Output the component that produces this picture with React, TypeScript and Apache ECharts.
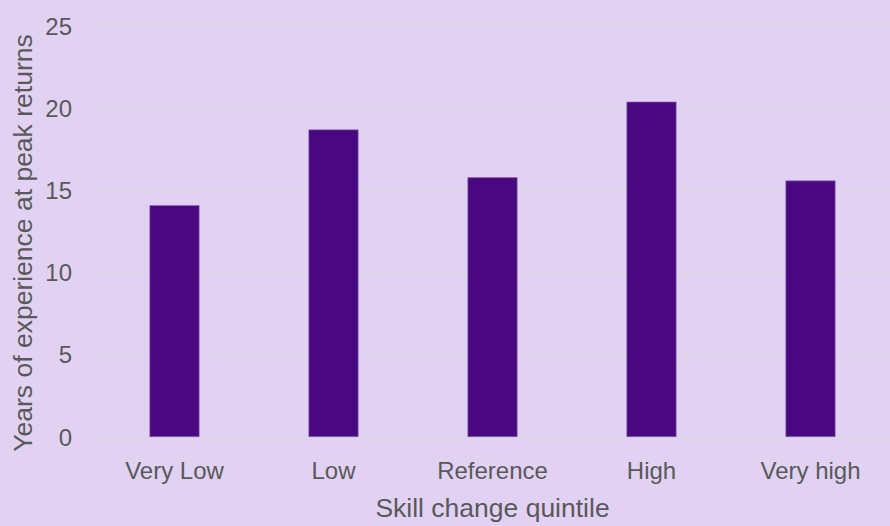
import React, { useEffect, useRef } from "react";
import * as echarts from "echarts";

const categories = ["Very Low", "Low", "Reference", "High", "Very high"];
const peakYears = [14.1, 18.7, 15.8, 20.4, 15.6];
const yTicks = [0, 5, 10, 15, 20, 25];
const yTitle = "Years of experience at peak returns";
const xTitle = "Skill change quintile";

const FONT = "Arial, 'Liberation Sans', Helvetica, sans-serif";
const TEXT = "#595959";

export default function App() {
  const ref = useRef<HTMLDivElement>(null);

  useEffect(() => {
    if (!ref.current) return;
    const chart = echarts.init(ref.current, undefined, { renderer: "svg" });
    chart.setOption({
      animation: false,
      backgroundColor: "#E1D2F4",
      grid: { left: 95, right: -9, top: 26, bottom: 84, containLabel: false },
      graphic: [
        {
          type: "text",
          x: 23,
          y: 243,
          rotation: Math.PI / 2,
          style: {
            text: yTitle,
            fill: TEXT,
            font: `26.5px ${FONT}`,
            textAlign: "center",
            textVerticalAlign: "middle",
          },
        },
      ],
      xAxis: {
        type: "category",
        data: categories,
        axisLine: { show: true, lineStyle: { color: "#D9D9D9", width: 1 } },
        axisTick: { show: false },
        axisLabel: { color: TEXT, fontFamily: FONT, fontSize: 24, margin: 21 },
        name: xTitle,
        nameLocation: "middle",
        nameGap: 57,
        nameTextStyle: { color: TEXT, fontFamily: FONT, fontSize: 26.5 },
      },
      yAxis: {
        type: "value",
        min: yTicks[0],
        max: yTicks[yTicks.length - 1],
        interval: 5,
        axisLine: { show: false },
        axisTick: { show: false },
        splitLine: { lineStyle: { color: "#D9D9D9", width: 1 } },
        axisLabel: { color: TEXT, fontFamily: FONT, fontSize: 24, margin: 23 },
      },
      series: [
        {
          type: "bar",
          data: peakYears,
          barWidth: 50,
          itemStyle: { color: "#4A0880", borderColor: "#8E6CC0", borderWidth: 0.6 },
        },
      ],
    });
    return () => chart.dispose();
  }, []);

  return (
    <div
      ref={ref}
      style={{ position: "absolute", left: 0, top: 0, width: 890, height: 526 }}
    />
  );
}
